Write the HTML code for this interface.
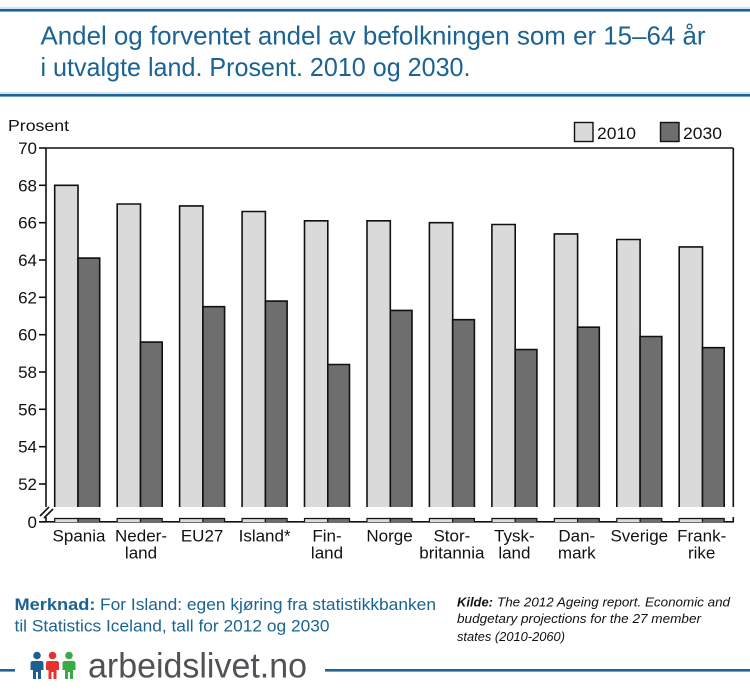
<!DOCTYPE html>
<html><head><meta charset="utf-8"><style>
html,body{margin:0;padding:0;background:#fff;}
svg{display:block;font-family:"Liberation Sans",sans-serif;}
</style></head><body>
<svg width="750" height="694" viewBox="0 0 750 694" xmlns="http://www.w3.org/2000/svg">
<rect width="750" height="694" fill="#fff"/>
<!-- header lines -->
<rect x="0" y="7" width="750" height="2" fill="#d7e3ec"/>
<rect x="0" y="9" width="750" height="2.6" fill="#1d6494"/>
<rect x="0" y="92" width="750" height="2" fill="#d7e3ec"/>
<rect x="0" y="94" width="750" height="2.6" fill="#1d6494"/>
<text x="40.5" y="44.5" font-size="26" fill="#1b6394" textLength="665" lengthAdjust="spacingAndGlyphs">Andel og forventet andel av befolkningen som er 15–64 år</text>
<text x="40.5" y="76" font-size="26" fill="#1b6394" textLength="430" lengthAdjust="spacingAndGlyphs">i utvalgte land. Prosent. 2010 og 2030.</text>

<!-- axis title -->
<text x="8" y="131" font-size="16" fill="#111" textLength="61" lengthAdjust="spacingAndGlyphs">Prosent</text>

<!-- legend -->
<rect x="574.5" y="122.5" width="18.5" height="19" fill="#dadada" stroke="#111" stroke-width="1.4"/>
<text x="597" y="139" font-size="17" fill="#111" textLength="39" lengthAdjust="spacingAndGlyphs">2010</text>
<rect x="660.5" y="122.5" width="18.5" height="19" fill="#6e6e6e" stroke="#111" stroke-width="1.4"/>
<text x="683" y="139" font-size="17" fill="#111" textLength="39" lengthAdjust="spacingAndGlyphs">2030</text>

<!-- plot frame -->
<g stroke="#111" stroke-width="1.6" fill="none">
<line x1="46" y1="148" x2="733.3" y2="148"/>
<line x1="46" y1="148" x2="46" y2="507"/>
<line x1="733.3" y1="148" x2="733.3" y2="507"/>
<line x1="46" y1="517" x2="46" y2="522"/>
<line x1="40" y1="521.8" x2="734" y2="521.8"/>
<line x1="733.3" y1="517" x2="733.3" y2="522"/>
<line x1="40" y1="516" x2="49" y2="507"/>
<line x1="44" y1="518" x2="53" y2="509"/>
<!-- y ticks -->
<line x1="39" y1="148" x2="46" y2="148"/>
<line x1="39" y1="185.3" x2="46" y2="185.3"/>
<line x1="39" y1="222.7" x2="46" y2="222.7"/>
<line x1="39" y1="260" x2="46" y2="260"/>
<line x1="39" y1="297.3" x2="46" y2="297.3"/>
<line x1="39" y1="334.7" x2="46" y2="334.7"/>
<line x1="39" y1="372" x2="46" y2="372"/>
<line x1="39" y1="409.3" x2="46" y2="409.3"/>
<line x1="39" y1="446.7" x2="46" y2="446.7"/>
<line x1="39" y1="484" x2="46" y2="484"/>
<line x1="39" y1="521.8" x2="46" y2="521.8"/>
</g>
<g font-size="17" fill="#111" text-anchor="end">
<text x="37" y="154">70</text>
<text x="37" y="191.3">68</text>
<text x="37" y="228.7">66</text>
<text x="37" y="266">64</text>
<text x="37" y="303.3">62</text>
<text x="37" y="340.7">60</text>
<text x="37" y="378">58</text>
<text x="37" y="415.3">56</text>
<text x="37" y="452.7">54</text>
<text x="37" y="490">52</text>
<text x="37" y="528">0</text>
</g>

<!-- bars -->
<g stroke="#111" stroke-width="1.6">
<!-- Spania c=77.2 -->
<path d="M54.7 507V185.3H78V507" fill="#dadada"/>
<path d="M78 507V258.1H99.7V507" fill="#6e6e6e"/>
<!-- Nederland c=139.7 -->
<path d="M117.2 507V204H140.5V507" fill="#dadada"/>
<path d="M140.5 507V342.1H162.2V507" fill="#6e6e6e"/>
<!-- EU27 c=202.1 -->
<path d="M179.6 507V205.9H202.9V507" fill="#dadada"/>
<path d="M202.9 507V306.7H224.6V507" fill="#6e6e6e"/>
<!-- Island c=264.6 -->
<path d="M242.1 507V211.5H265.4V507" fill="#dadada"/>
<path d="M265.4 507V301.1H287.1V507" fill="#6e6e6e"/>
<!-- Finland c=327 -->
<path d="M304.5 507V220.8H327.8V507" fill="#dadada"/>
<path d="M327.8 507V364.5H349.5V507" fill="#6e6e6e"/>
<!-- Norge c=389.5 -->
<path d="M367 507V220.8H390.3V507" fill="#dadada"/>
<path d="M390.3 507V310.4H412V507" fill="#6e6e6e"/>
<!-- Storbritannia c=451.9 -->
<path d="M429.4 507V222.7H452.7V507" fill="#dadada"/>
<path d="M452.7 507V319.7H474.4V507" fill="#6e6e6e"/>
<!-- Tyskland c=514.4 -->
<path d="M491.9 507V224.5H515.2V507" fill="#dadada"/>
<path d="M515.2 507V349.6H536.9V507" fill="#6e6e6e"/>
<!-- Danmark c=576.8 -->
<path d="M554.3 507V233.9H577.6V507" fill="#dadada"/>
<path d="M577.6 507V327.2H599.3V507" fill="#6e6e6e"/>
<!-- Sverige c=639.3 -->
<path d="M616.8 507V239.5H640.1V507" fill="#dadada"/>
<path d="M640.1 507V336.5H661.8V507" fill="#6e6e6e"/>
<!-- Frankrike c=701.7 -->
<path d="M679.2 507V246.9H702.5V507" fill="#dadada"/>
<path d="M702.5 507V347.7H724.2V507" fill="#6e6e6e"/>
</g>
<!-- bar stubs below break -->
<g stroke="#111" stroke-width="1.2">
<path d="M54.7 522V518.5H78V522" fill="#dadada"/><path d="M78 522V518.5H99.7V522" fill="#6e6e6e"/>
<path d="M117.2 522V518.5H140.5V522" fill="#dadada"/><path d="M140.5 522V518.5H162.2V522" fill="#6e6e6e"/>
<path d="M179.6 522V518.5H202.9V522" fill="#dadada"/><path d="M202.9 522V518.5H224.6V522" fill="#6e6e6e"/>
<path d="M242.1 522V518.5H265.4V522" fill="#dadada"/><path d="M265.4 522V518.5H287.1V522" fill="#6e6e6e"/>
<path d="M304.5 522V518.5H327.8V522" fill="#dadada"/><path d="M327.8 522V518.5H349.5V522" fill="#6e6e6e"/>
<path d="M367 522V518.5H390.3V522" fill="#dadada"/><path d="M390.3 522V518.5H412V522" fill="#6e6e6e"/>
<path d="M429.4 522V518.5H452.7V522" fill="#dadada"/><path d="M452.7 522V518.5H474.4V522" fill="#6e6e6e"/>
<path d="M491.9 522V518.5H515.2V522" fill="#dadada"/><path d="M515.2 522V518.5H536.9V522" fill="#6e6e6e"/>
<path d="M554.3 522V518.5H577.6V522" fill="#dadada"/><path d="M577.6 522V518.5H599.3V522" fill="#6e6e6e"/>
<path d="M616.8 522V518.5H640.1V522" fill="#dadada"/><path d="M640.1 522V518.5H661.8V522" fill="#6e6e6e"/>
<path d="M679.2 522V518.5H702.5V522" fill="#dadada"/><path d="M702.5 522V518.5H724.2V522" fill="#6e6e6e"/>
</g>

<!-- x labels -->
<g font-size="17" fill="#111" text-anchor="middle">
<text x="79" y="541.5">Spania</text>
<text x="141" y="541.5">Neder-</text><text x="141" y="558.5">land</text>
<text x="202.1" y="541.5">EU27</text>
<text x="264.6" y="541.5">Island*</text>
<text x="327" y="541.5">Fin-</text><text x="327" y="558.5">land</text>
<text x="389.5" y="541.5">Norge</text>
<text x="451.9" y="541.5">Stor-</text><text x="451.9" y="558.5">britannia</text>
<text x="514.4" y="541.5">Tysk-</text><text x="514.4" y="558.5">land</text>
<text x="576.8" y="541.5">Dan-</text><text x="576.8" y="558.5">mark</text>
<text x="639.3" y="541.5">Sverige</text>
<text x="701.7" y="541.5">Frank-</text><text x="701.7" y="558.5">rike</text>
</g>

<!-- notes -->
<text x="14.5" y="610" font-size="17" font-weight="bold" fill="#1b6394" textLength="81" lengthAdjust="spacingAndGlyphs">Merknad:</text>
<text x="100" y="610" font-size="17" fill="#1b6394" textLength="336" lengthAdjust="spacingAndGlyphs">For Island: egen kjøring fra statistikkbanken</text>
<text x="14.5" y="631.5" font-size="17" fill="#1b6394" textLength="315" lengthAdjust="spacingAndGlyphs">til Statistics Iceland, tall for 2012 og 2030</text>

<text x="457" y="606.5" font-size="13" font-weight="bold" font-style="italic" fill="#111" textLength="36" lengthAdjust="spacingAndGlyphs">Kilde:</text>
<text x="497" y="606.5" font-size="13" font-style="italic" fill="#111" textLength="233" lengthAdjust="spacingAndGlyphs">The 2012 Ageing report. Economic and</text>
<text x="457" y="623" font-size="13" font-style="italic" fill="#111" textLength="244" lengthAdjust="spacingAndGlyphs">budgetary projections for the 27 member</text>
<text x="457" y="641" font-size="13" font-style="italic" fill="#111" textLength="108" lengthAdjust="spacingAndGlyphs">states (2010-2060)</text>

<!-- logo -->
<rect x="0" y="669" width="15" height="2.6" fill="#1d6494"/>
<rect x="325" y="669" width="425" height="2.6" fill="#1d6494"/>
<g>
<circle cx="37" cy="655.5" r="3.8" fill="#1d5f8f"/>
<path d="M30.5 663.5Q30.5 661 33 661H41Q43.5 661 43.5 663.5V670H41V679H38V672H36V679H33V670H30.5Z" fill="#1d5f8f"/>
<circle cx="52.5" cy="655.5" r="3.8" fill="#e8312f"/>
<path d="M46 663.5Q46 661 48.5 661H56.5Q59 661 59 663.5V670H56.5V679H53.5V672H51.5V679H48.5V670H46Z" fill="#e8312f"/>
<circle cx="69" cy="655.5" r="3.8" fill="#3aaa48"/>
<path d="M62.5 663.5Q62.5 661 65 661H73Q75.5 661 75.5 663.5V670H73V679H70V672H68V679H65V670H62.5Z" fill="#3aaa48"/>
</g>
<text x="88" y="677.5" font-size="35" fill="#505256" textLength="219" lengthAdjust="spacingAndGlyphs">arbeidslivet.no</text>
</svg>
</body></html>
